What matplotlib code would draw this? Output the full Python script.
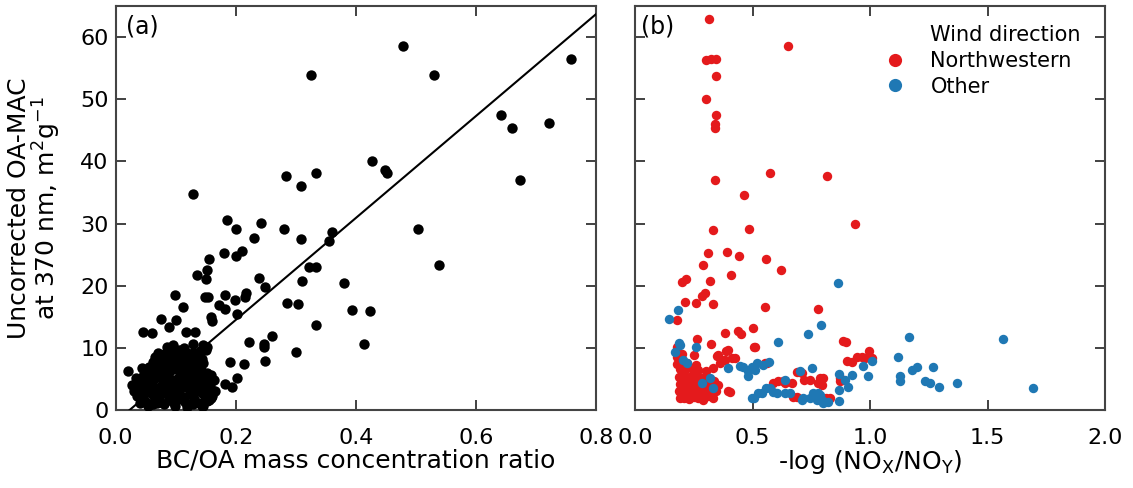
import numpy as np
import matplotlib
matplotlib.use("Agg")
import matplotlib.pyplot as plt
from matplotlib.lines import Line2D

# ---- panel (a): BC/OA ratio vs uncorrected OA-MAC ----
bcoa_x = [0.479, 0.326, 0.530, 0.758, 0.641, 0.660, 0.722, 0.674, 0.427, 0.449,
          0.451, 0.284, 0.333, 0.308, 0.129, 0.503, 0.539, 0.281, 0.242, 0.186,
          0.201, 0.230, 0.309, 0.360, 0.356, 0.180, 0.200, 0.211, 0.155, 0.152,
          0.136, 0.150, 0.322, 0.333, 0.239, 0.248, 0.310, 0.380, 0.099, 0.149,
          0.154, 0.182, 0.198, 0.217, 0.216, 0.112, 0.172, 0.182, 0.202, 0.159,
          0.161, 0.285, 0.303, 0.393, 0.423, 0.334, 0.076, 0.100, 0.089, 0.046,
          0.061, 0.260, 0.222, 0.247, 0.247, 0.413, 0.301, 0.190, 0.214, 0.249,
          0.182, 0.194, 0.202, 0.021, 0.152, 0.117, 0.132, 0.105, 0.145]
mac_y = [58.6, 53.9, 53.9, 56.4, 47.5, 45.4, 46.1, 37.0, 40.0, 38.6,
         38.2, 37.7, 38.2, 36.0, 34.7, 29.1, 23.3, 29.1, 30.1, 30.5,
         29.2, 27.7, 27.5, 28.6, 27.2, 25.2, 24.8, 25.6, 24.3, 22.5,
         21.7, 21.0, 23.0, 23.0, 21.2, 19.8, 20.7, 20.5, 18.5, 18.2,
         18.2, 18.5, 17.7, 18.8, 18.2, 16.6, 16.9, 16.3, 15.5, 15.0,
         14.4, 17.2, 17.0, 16.1, 16.0, 13.6, 14.6, 14.5, 13.4, 12.6,
         12.4, 11.9, 11.0, 10.7, 10.2, 10.6, 9.3, 7.8, 7.4, 7.9,
         4.2, 3.7, 5.2, 6.3, 10.2, 12.6, 12.6, 9.6, 10.4]

# dense low-ratio cluster
clus_x = [0.058, 0.081, 0.097, 0.121, 0.139, 0.066, 0.108, 0.152,
          0.049, 0.072, 0.088, 0.113, 0.131, 0.148, 0.036, 0.046, 0.064,
          0.086, 0.104, 0.127, 0.144, 0.161, 0.031, 0.052, 0.071, 0.093,
          0.109, 0.132, 0.151, 0.037, 0.056, 0.077, 0.094, 0.117, 0.136,
          0.157, 0.041, 0.061, 0.079, 0.101, 0.122, 0.141, 0.163, 0.046,
          0.066, 0.084, 0.106, 0.126, 0.146, 0.051, 0.072, 0.091, 0.111,
          0.129, 0.152, 0.056, 0.075, 0.098, 0.121, 0.139, 0.062, 0.083,
          0.104, 0.126, 0.146, 0.066, 0.089, 0.112, 0.134, 0.071, 0.096,
          0.119, 0.141, 0.086, 0.113, 0.129, 0.027, 0.034, 0.043, 0.158,
          0.165, 0.054, 0.118, 0.144, 0.069, 0.092,
          0.040, 0.062, 0.074, 0.090, 0.099, 0.115, 0.128, 0.146, 0.156,
          0.040, 0.058, 0.080, 0.098, 0.122, 0.141, 0.160, 0.048, 0.068,
          0.088, 0.110, 0.128, 0.150, 0.056, 0.076, 0.096, 0.116, 0.136,
          0.158, 0.062, 0.082, 0.102, 0.120, 0.142, 0.068, 0.090, 0.112,
          0.132, 0.078, 0.100, 0.122, 0.143, 0.080, 0.106, 0.128, 0.150,
          0.095, 0.075]
clus_y = [1.0, 0.9, 1.2, 0.8, 1.1, 1.6, 1.7, 1.4,
          1.5, 2.0, 1.6, 2.1, 1.8, 2.3, 2.2, 2.6, 2.3,
          2.5, 2.9, 2.4, 2.7, 2.2, 3.1, 3.3, 2.9, 3.2,
          3.6, 3.1, 3.4, 3.9, 3.7, 4.0, 4.1, 3.8, 4.2,
          3.9, 4.6, 4.4, 4.8, 4.5, 4.7, 4.4, 4.9, 5.4,
          5.2, 5.6, 5.3, 5.5, 5.1, 6.1, 6.0, 6.3, 5.9,
          6.2, 6.0, 6.9, 6.7, 7.0, 6.6, 6.8, 7.7, 7.5,
          7.8, 7.4, 7.6, 8.5, 8.3, 8.6, 8.4, 9.2, 9.4,
          9.1, 9.5, 10.2, 10.0, 10.6, 4.0, 5.1, 6.8, 1.9,
          3.0, 0.6, 0.5, 0.7, 1.2, 2.0,
          1.2, 0.9, 1.3, 2.4, 0.7, 1.3, 1.0, 0.6, 1.6,
          3.0, 2.7, 3.5, 2.1, 3.4, 3.1, 2.6, 4.2, 3.6,
          4.3, 4.1, 4.0, 4.4, 5.0, 5.3, 4.9, 5.0, 5.2,
          5.6, 6.4, 6.5, 6.6, 6.3, 6.4, 7.3, 7.2, 7.3,
          7.1, 8.1, 8.0, 8.1, 8.2, 9.0, 9.0, 9.2, 9.7,
          10.4, 8.9]

fit_x = [0.0, 0.8]
fit_slope = 82.0
fit_icpt = -1.9

# ---- panel (b): photochemical age vs OA-MAC by wind direction ----
nw_x = [0.313, 0.653, 0.302, 0.323, 0.345, 0.343, 0.301, 0.345, 0.340, 0.342,
        0.574, 0.816, 0.339, 0.464, 0.484, 0.935, 0.333, 0.312, 0.390, 0.443,
        0.557, 0.291, 0.620, 0.407, 0.201, 0.216, 0.319, 0.284, 0.298, 0.260,
        0.213, 0.331, 0.552, 0.778, 0.177, 0.501, 0.383, 0.438, 0.452, 0.262,
        0.322, 0.508, 0.887, 0.897, 0.180, 0.387, 0.997, 0.348, 0.369, 0.411,
        0.943, 0.979, 0.901, 0.180, 0.191, 0.553, 0.333, 0.688, 0.719, 0.785,
        0.778, 0.589, 0.638, 0.669, 0.394, 0.671, 0.813, 0.872, 0.872, 0.355,
        0.383, 0.397, 0.426, 0.404, 0.213, 0.560, 0.610, 0.631, 0.709, 0.745,
        0.799, 0.794, 0.830, 0.688, 0.886, 0.922, 0.965, 1.007, 0.511,
        0.19, 0.21, 0.23, 0.25, 0.27, 0.29, 0.31, 0.33,
        0.185, 0.20, 0.22, 0.24, 0.26, 0.28, 0.30, 0.32, 0.345,
        0.19, 0.21, 0.23, 0.25, 0.27, 0.29, 0.31, 0.335, 0.355,
        0.185, 0.20, 0.22, 0.24, 0.26, 0.28, 0.30, 0.32,
        0.19, 0.21, 0.24, 0.27, 0.30, 0.18, 0.22, 0.26, 0.36, 0.20, 0.25,
        0.195, 0.215, 0.235, 0.255, 0.275, 0.295, 0.315, 0.205, 0.235,
        0.265, 0.295, 0.325, 0.205, 0.255]
nw_y = [62.9, 58.5, 56.3, 56.4, 56.4, 53.7, 50.1, 47.5, 46.0, 45.4,
        38.2, 37.6, 37.0, 34.6, 29.2, 30.0, 29.0, 25.3, 25.5, 24.8,
        24.3, 23.3, 22.5, 21.7, 20.6, 21.1, 20.7, 18.3, 18.8, 17.2,
        17.3, 17.0, 16.5, 16.3, 14.5, 13.2, 12.4, 12.7, 12.2, 11.4,
        10.6, 10.1, 11.1, 11.0, 10.2, 9.5, 9.5, 8.7, 8.0, 8.3,
        8.6, 8.3, 7.9, 8.6, 7.5, 7.5, 6.8, 6.1, 4.9, 5.2,
        4.3, 4.4, 4.4, 4.4, 3.1, 2.1, 1.9, 5.1, 4.6, 8.8,
        8.0, 9.6, 8.3, 2.9, 7.5, 7.5, 4.6, 4.6, 5.9, 4.8,
        5.1, 4.0, 1.9, 2.1, 4.8, 7.8, 8.6, 8.3, 10.2,
        2.0, 2.0, 1.8, 2.1, 1.9, 1.6, 2.2, 2.0,
        3.0, 3.2, 2.8, 3.0, 3.3, 2.9, 3.1, 3.4, 3.0,
        4.2, 4.0, 4.4, 4.1, 4.5, 4.0, 4.3, 4.6, 4.0,
        5.3, 5.6, 5.2, 5.5, 5.8, 5.2, 5.5, 5.0,
        6.6, 6.3, 6.8, 6.5, 6.2, 7.4, 7.6, 7.2, 7.5, 9.0, 8.8,
        2.5, 3.6, 2.4, 3.7, 2.6, 3.7, 2.7, 4.8, 5.0,
        5.0, 4.8, 4.0, 6.0, 6.1]

oth_x = [0.862, 0.146, 0.182, 0.791, 0.735, 1.167, 1.567, 0.607, 0.187, 0.260,
         0.170, 1.118, 1.009, 0.972, 1.177, 1.198, 1.270, 1.128, 1.128, 1.234,
         1.255, 1.294, 1.369, 1.695, 0.993, 0.925, 0.868, 0.894, 0.908, 0.868,
         0.868, 0.755, 0.759, 0.745, 0.773, 0.801, 0.709, 0.787, 0.638, 0.497,
         0.525, 0.556, 0.589, 0.572, 0.546, 0.518, 0.497, 0.482, 0.461, 0.447,
         0.480, 0.511, 0.397, 0.638, 0.204, 0.220, 0.319, 0.333, 0.284, 0.191,
         0.603, 0.660, 0.702, 0.780, 0.794, 0.716, 0.823, 0.574, 0.539, 0.506]
oth_y = [20.5, 14.6, 16.1, 13.6, 12.3, 11.7, 11.4, 11.0, 10.8, 10.1,
         9.4, 8.5, 7.9, 7.1, 6.5, 7.0, 6.9, 5.4, 4.6, 4.6,
         4.3, 3.7, 4.3, 3.6, 5.5, 5.7, 5.8, 4.8, 3.7, 3.2,
         1.4, 6.7, 2.7, 1.9, 1.6, 1.1, 1.6, 2.4, 2.7, 1.9,
         2.7, 3.5, 2.9, 7.8, 7.3, 7.5, 7.0, 6.2, 7.0, 7.1,
         5.4, 6.4, 6.7, 4.8, 8.0, 7.5, 5.1, 3.5, 4.3, 10.4,
         2.7, 2.7, 6.2, 2.7, 1.6, 1.9, 1.3, 3.6, 2.8, 1.9]

red = "#e41a1c"
blue = "#1f78b4"

plt.rcParams['font.family'] = "DejaVu Sans"
plt.rcParams['axes.linewidth'] = 1.5
plt.rcParams['axes.edgecolor'] = "#444444"

fig = plt.figure(figsize=(11.33, 4.88), dpi=100)
ax1 = fig.add_axes([0.1021, 0.1598, 0.4240, 0.8279])
ax2 = fig.add_axes([0.5605, 0.1598, 0.4148, 0.8279])

ax1.scatter(bcoa_x, mac_y, s=56, c="black", lw=0, zorder=3)
ax1.scatter(clus_x, clus_y, s=56, c="black", lw=0, zorder=3)
fx = np.array(fit_x)
ax1.plot(fx, fit_slope * fx + fit_icpt, c="black", lw=1.5, zorder=4)

ax2.scatter(nw_x, nw_y, s=46, c=red, lw=0, zorder=3)
ax2.scatter(oth_x, oth_y, s=46, c=blue, lw=0, zorder=3)

ax1.set_xlim(0, 0.8)
ax2.set_xlim(0, 2.0)
for a in (ax1, ax2):
    a.set_ylim(0, 65)
    a.set_yticks([0, 10, 20, 30, 40, 50, 60])
    a.tick_params(direction="in", top=True, right=True, length=7, width=1.3,
                  color="#333333", labelsize=16)
    a.tick_params(axis="x", pad=13)
    a.tick_params(axis="y", pad=5)

ax1.set_xticks([0.0, 0.2, 0.4, 0.6, 0.8])
ax2.set_xticks([0.0, 0.5, 1.0, 1.5, 2.0])
ax2.tick_params(labelleft=False)

ax1.set_xlabel("BC/OA mass concentration ratio", fontsize=18, labelpad=0)
ax2.set_xlabel(r"-log (NO$_{\rm X}$/NO$_{\rm Y}$)", fontsize=18, labelpad=0)
ax1.set_ylabel("Uncorrected OA-MAC\n" + r"at 370 nm, m$^{2}$g$^{-1}$",
               fontsize=18, linespacing=1.0)
ax1.yaxis.set_label_coords(-0.11, 0.5)

ax1.text(0.022, 0.98, "(a)", transform=ax1.transAxes, fontsize=17,
         ha="left", va="top")
ax2.text(0.012, 0.98, "(b)", transform=ax2.transAxes, fontsize=17,
         ha="left", va="top")

handles = [Line2D([], [], ls="none", marker="none"),
           Line2D([], [], ls="none", marker="o", ms=9.5, mfc=red, mec="none"),
           Line2D([], [], ls="none", marker="o", ms=9.5, mfc=blue, mec="none")]
ax2.legend(handles, ["Wind direction", "Northwestern", "Other"],
           loc="upper left", bbox_to_anchor=(0.531, 0.952), frameon=False,
           fontsize=15, handlelength=1.0, handletextpad=1.2,
           labelspacing=0.27, borderaxespad=0, borderpad=0)

fig.savefig("out.png", dpi=100)
